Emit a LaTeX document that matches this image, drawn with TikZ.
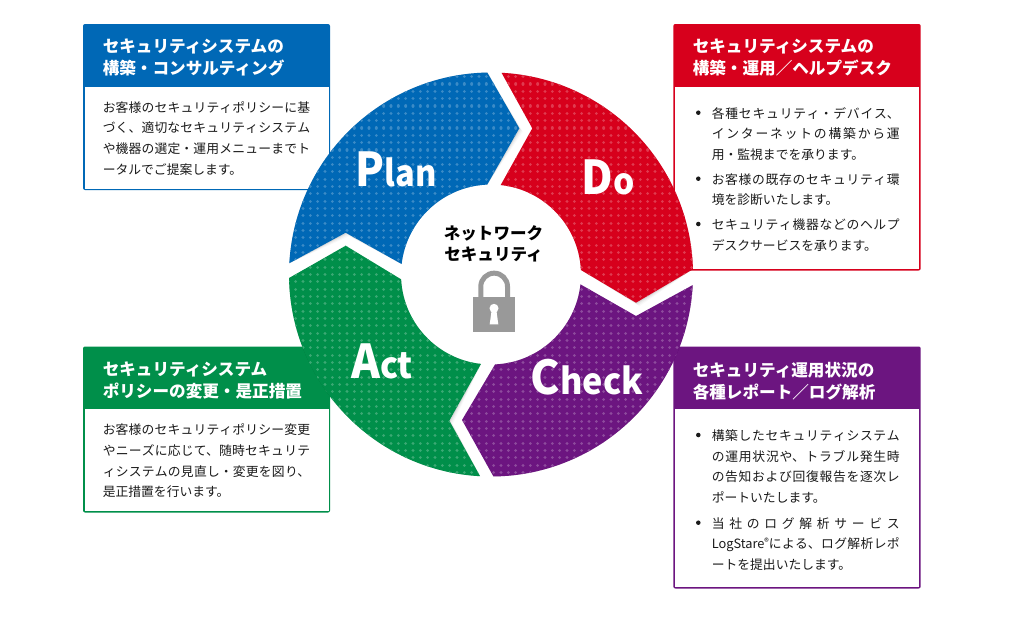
\documentclass[tikz,border=0pt]{standalone}
\usepackage{fontspec}
\usepackage{graphicx}
\setmainfont{Noto Sans CJK JP}
\usetikzlibrary{calc}
\XeTeXlinebreaklocale "ja"
\XeTeXlinebreakskip=0pt plus 3pt
\definecolor{cplan}{HTML}{0068B6}
\definecolor{cdo}{HTML}{D7001C}
\definecolor{ccheck}{HTML}{6C1580}
\definecolor{cact}{HTML}{008F4A}
\definecolor{cink}{HTML}{1A1A1A}
\definecolor{clock}{HTML}{999999}
\newcommand{\bigL}[3]{\scalebox{#1}[1]{\fontsize{35}{35}\selectfont\bfseries #2\fontsize{27}{27}\selectfont #3}}
\newcommand{\segpath}[6]{($(c)+(#1:202)$) arc[start angle=#1,end angle=#2,radius=202] -- (#3) -- ($(c)+(#4:90)$) arc[start angle=#4,end angle=#5,radius=90] -- (#6) -- cycle}
\newcommand{\segment}[7]{%
  \foreach \sx/\so in {3.5/.025,2.5/.035,1.5/.045,.8/.06}{
    \fill[black,opacity=\so,shift={(\sx,\sx)}] \segpath{#2}{#3}{#4}{#5}{#6}{#7};
  }
  \begin{scope}
    \clip \segpath{#2}{#3}{#4}{#5}{#6}{#7};
    \fill[#1] (280,60) rectangle (705,490);
    \foreach \rr in {0,...,58}{
      \draw[#1!77!white,line width=2.3pt,line cap=round,dash pattern=on 0.01pt off 5.49pt] (281,62+\rr*7.33) -- (705,62+\rr*7.33);
    }
  \end{scope}
}
\tikzset{
  x=0.75pt,y=-0.75pt,
  hdr/.style={anchor=north west,inner sep=0pt,text=white,font=\fontsize{12.45}{16.8}\selectfont\bfseries,align=left},
  body/.style={anchor=north west,inner sep=0pt,text=cink,font=\fontsize{9.6}{15.55}\selectfont,align=justify},
  blt/.style={circle,fill=cink,inner sep=0pt,minimum size=3.4pt},
  biglabel/.style={inner sep=0pt,text=white,anchor=base west},
}
\begin{document}
\begin{tikzpicture}
\useasboundingbox (0,0) rectangle (1024,619);
\fill[white] (0,0) rectangle (1024,619);
\coordinate (c) at (491,274.5);

% boxes
\fill[cplan,rounded corners=1.5pt] (83,24) rectangle (330,190);
\fill[white] (84.5,86.7) rectangle (328.5,188.5);
\fill[cdo,rounded corners=1.5pt] (673.3,24) rectangle (920.7,270.5);
\fill[white] (674.8,87.3) rectangle (919.2,269);
\fill[cact,rounded corners=1.5pt] (83,346.5) rectangle (330,512.5);
\fill[white] (84.5,409.3) rectangle (328.5,511);
\fill[ccheck,rounded corners=1.5pt] (673.3,346.5) rectangle (920.7,588.5);
\fill[white] (674.8,409.3) rectangle (919.2,587);

% headers
\node[hdr] (h1) at (102.5,38.5) {セキュリティシステムの\\構築・コンサルティング};
\node[hdr] (h2) at (692.5,38.5) {セキュリティシステムの\\構築・運用／ヘルプデスク};
\node[hdr] (h3) at (102.5,361.5) {セキュリティシステム\\ポリシーの変更・是正措置};
\node[hdr] (h4) at (692.5,361.5) {セキュリティ運用状況の\\各種レポート／ログ解析};

% body text
\node[body,text width=155.5pt] (b1) at (102.5,101) {お客様のセキュリティポリシーに基\linebreak づく、適切なセキュリティシステム\linebreak や機器の選定・運用メニューまでト\linebreak ータルでご提案します。};
\node[body,text width=155.5pt] (b3) at (102.5,423.5) {お客様のセキュリティポリシー変更\linebreak やニーズに応じて、随時セキュリテ\linebreak ィシステムの見直し・変更を図り、\linebreak 是正措置を行います。};

\node[blt] (d1) at (698.3,112.7) {};
\node[body,text width=141pt] (t1) at (711.5,107) {各種セキュリティ・デバイス、\linebreak インターネットの構築から運\linebreak 用・監視までを承ります。};
\node[blt] (d2) at (698.3,178.7) {};
\node[body,text width=141pt] (t2) at (711.5,173) {お客様の既存のセキュリティ環\linebreak 境を診断いたします。};
\node[blt] (d3) at (698.3,224) {};
\node[body,text width=141pt] (t3) at (711.5,218.5) {セキュリティ機器などのヘルプ\linebreak デスクサービスを承ります。};
\node[blt] (d4) at (698.3,435) {};
\node[body,text width=141pt] (t4) at (711.5,429.3) {構築したセキュリティシステム\linebreak の運用状況や、トラブル発生時\linebreak の告知および回復報告を逐次レ\linebreak ポートいたします。};
\node[blt] (d5) at (698.3,522.7) {};
\node[body,text width=141pt] (t5) at (711.5,517) {当社のログ解析サービス\linebreak LogStare{\fontsize{7}{7}\selectfont\raisebox{2.2pt}{®}}による、ログ解析レポ\linebreak ートを提出いたします。};

% wheel
\segment{cplan}{183.2}{268.95}{519.3,128.3}{267.6}{186.7}{345.7,232.7}
\segment{cdo}{273}{358.5}{636,302.7}{357.1}{276.2}{532.3,128.3}
\segment{ccheck}{3}{89.3}{462,420}{87.4}{6.3}{636,316}
\segment{cact}{93.1}{179}{345.7,245.7}{176.9}{96.4}{449.3,420.7}

% labels
\node[biglabel] (plan) at (355.5,186.5) {\bigL{0.905}{P}{lan}};
\node[biglabel] (do) at (581.5,194.5) {\bigL{0.93}{D}{o}};
\node[biglabel] (chk) at (530.5,394) {\bigL{0.95}{C}{heck}};
\node[biglabel] (act) at (351,378) {\bigL{0.94}{A}{ct}};

% centre
\node[inner sep=0pt,align=center,text=black,font=\fontsize{12.4}{16}\selectfont\bfseries] (ctr) at (493.5,243.5) {ネットワーク\\セキュリティ};
\draw[clock,line width=3.75pt] (480.8,298) -- (480.8,286.5) arc[start angle=180,end angle=360,radius=13.35] -- (507.5,298);
\fill[clock] (473.3,296.7) rectangle (515,331.7);
\fill[white] (494,308.3) circle[radius=4.5];
\fill[white] (491.8,309) -- (496.2,309) -- (498.3,324.3) -- (489.7,324.3) -- cycle;
\end{tikzpicture}
\end{document}
